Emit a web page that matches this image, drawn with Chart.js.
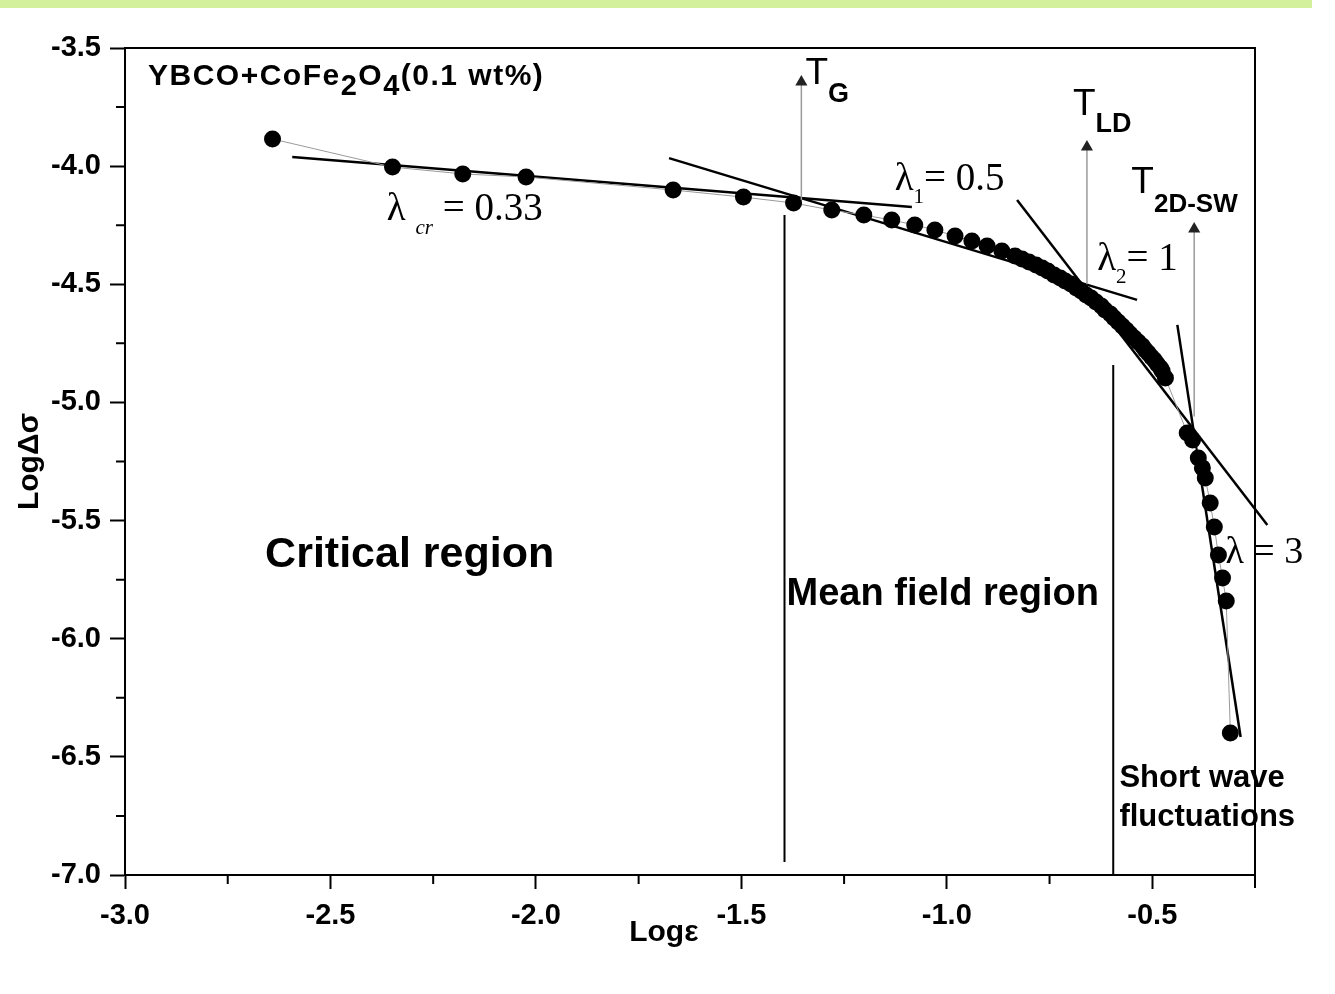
<!DOCTYPE html>
<html lang="en">
<head>
<meta charset="UTF-8">
<title>LogΔσ vs Logε</title>
<script src="https://cdn.jsdelivr.net/npm/chart.js"></script>
<style>
  body { margin: 0; padding: 0; background: #fff; }
  .band { position: absolute; left: 0; top: 0; width: 1312px; height: 8px; background: #d3f09c; }
  canvas { position: absolute; left: 0; top: 0; }
</style>
</head>
<body>
<div class="band"></div>
<canvas id="chart" width="1335" height="994"></canvas>
<script>
// measured points (Log eps, Log delta sigma)
const logEps = [-2.641, -2.349, -2.178, -2.024, -1.666, -1.495, -1.373, -1.280, -1.202, -1.134,
  -1.078, -1.029, -0.980, -0.939, -0.902, -0.866, -0.834, -0.817, -0.800, -0.783,
  -0.768, -0.754, -0.739, -0.724, -0.712, -0.698, -0.685, -0.673, -0.661, -0.649,
  -0.637, -0.624, -0.615, -0.602, -0.593, -0.583, -0.573, -0.563, -0.554, -0.544,
  -0.534, -0.524, -0.517, -0.510, -0.502, -0.495, -0.488, -0.480, -0.476, -0.468,
  -0.415, -0.402, -0.388, -0.378, -0.371, -0.359, -0.349, -0.339, -0.329, -0.320,
  -0.310];
const logDeltaSigma = [-3.885, -4.004, -4.033, -4.046, -4.101, -4.131, -4.156, -4.186, -4.207, -4.228,
  -4.249, -4.270, -4.296, -4.317, -4.338, -4.359, -4.380, -4.393, -4.406, -4.418,
  -4.431, -4.444, -4.461, -4.473, -4.486, -4.499, -4.516, -4.528, -4.545, -4.558,
  -4.575, -4.592, -4.609, -4.626, -4.643, -4.660, -4.677, -4.693, -4.710, -4.727,
  -4.744, -4.761, -4.778, -4.791, -4.808, -4.820, -4.837, -4.854, -4.867, -4.897,
  -5.129, -5.159, -5.235, -5.277, -5.320, -5.426, -5.527, -5.646, -5.743, -5.840,
  -6.399];

// fitted straight lines (end points)
const fitCrX = [-2.593, -1.085], fitCrY = [-3.961, -4.173];   // lambda_cr = 0.33
const fit1X = [-1.676, -0.537], fit1Y = [-3.966, -4.566];     // lambda_1 = 0.5
const fit2X = [-0.829, -0.220], fit2Y = [-4.143, -5.519];     // lambda_2 = 1
const fit3X = [-0.439, -0.285], fit3Y = [-4.672, -6.416];     // lambda = 3

// region boundaries
const boundTgX = -1.395, boundTgY = [-4.207, -6.945];
const boundSwX = -0.595, boundSwY = [-4.842, -7.0];

// temperature arrows (bottom, head)
const arrowTgX = -1.354, arrowTgY = [-4.143, -3.644];
const arrowLdX = -0.659, arrowLdY = [-4.500, -3.919];
const arrow2dX = -0.398, arrow2dY = [-5.060, -4.266];

// axis ticks
const xMinorTicks = [-2.75, -2.25, -1.75, -1.25, -0.75, -0.25];
const yMinorTicks = [-3.75, -4.25, -4.75, -5.25, -5.75, -6.25, -6.75];

const SANS = 'Liberation Sans, Arial, sans-serif';
const SERIF = 'Liberation Serif, Times New Roman, serif';

// text notes: anchor in data units, parts = [text, font, baseline shift]
const notes = [
  { x: -2.944, y: -3.657, ls: '1.5px', parts: [['YBCO+CoFe', 'bold 30px ' + SANS, 0], ['2', 'bold 29px ' + SANS, 10],
    ['O', 'bold 30px ' + SANS, 0], ['4', 'bold 29px ' + SANS, 10], ['(0.1 wt%)', 'bold 30px ' + SANS, 0]] },
  { x: -2.363, y: -4.228, parts: [['λ', '39px ' + SERIF, 0], [' ', '39px ' + SERIF, 0],
    ['cr', 'italic 21px ' + SERIF, 14], [' = 0.33', '39px ' + SERIF, 0]] },
  { x: -1.127, y: -4.101, parts: [['λ', '39px ' + SERIF, 0], ['1', '21px ' + SERIF, 13], ['= 0.5', '39px ' + SERIF, 0]] },
  { x: -0.634, y: -4.440, parts: [['λ', '39px ' + SERIF, 0], ['2', '21px ' + SERIF, 13], ['= 1', '39px ' + SERIF, 0]] },
  { x: -0.322, y: -5.680, parts: [['λ', '38px ' + SERIF, 0], [' = 3', '38px ' + SERIF, 0]] },
  { x: -1.344, y: -3.652, parts: [['T', '37px ' + SANS, 0], ['G', 'bold 27px ' + SANS, 18]] },
  { x: -0.693, y: -3.784, parts: [['T', '37px ' + SANS, 0], ['LD', 'bold 27px ' + SANS, 17]] },
  { x: -0.551, y: -4.114, parts: [['T', '37px ' + SANS, 0], ['2D-SW', 'bold 26px ' + SANS, 19]] },
  { x: -2.659, y: -5.696, parts: [['Critical region', 'bold 43px ' + SANS, 0]] },
  { x: -1.390, y: -5.857, parts: [['Mean field region', 'bold 38px ' + SANS, 0]] },
  { x: -0.580, y: -6.627, parts: [['Short wave', 'bold 31px ' + SANS, 0]] },
  { x: -0.580, y: -6.793, parts: [['fluctuations', 'bold 31px ' + SANS, 0]] },
  { x: -1.773, y: -7.280, parts: [['Logε', 'bold 30px ' + SANS, 0]] }
];

function pts(xs, ys) {
  return xs.map((v, i) => ({ x: v, y: ys[i] }));
}
function vline(x, ys) {
  return ys.map(v => ({ x: x, y: v }));
}

function lineSet(data, color, width) {
  return { data: data, showLine: true, borderColor: color, borderWidth: width, pointRadius: 0, clip: false };
}
function arrowSet(data) {
  return {
    data: data, showLine: true, borderColor: '#9a9a9a', borderWidth: 1.5,
    pointRadius: [0, 7], pointStyle: 'triangle', pointBackgroundColor: '#222', pointBorderWidth: 0
  };
}

const notesPlugin = {
  id: 'notes',
  afterDraw(chart) {
    const ctx = chart.ctx, xs = chart.scales.x, ys = chart.scales.y, a = chart.chartArea;
    ctx.save();
    // top and right frame
    ctx.strokeStyle = '#000';
    ctx.lineWidth = 2;
    ctx.beginPath();
    ctx.moveTo(a.left, a.top);
    ctx.lineTo(a.right, a.top);
    ctx.lineTo(a.right, a.bottom);
    ctx.stroke();
    // minor ticks
    ctx.beginPath();
    xMinorTicks.forEach(v => {
      const p = xs.getPixelForValue(v);
      ctx.moveTo(p, a.bottom);
      ctx.lineTo(p, a.bottom + (v === -0.25 ? 13 : 9));
    });
    yMinorTicks.forEach(v => {
      const p = ys.getPixelForValue(v);
      ctx.moveTo(a.left, p);
      ctx.lineTo(a.left - 9, p);
    });
    ctx.stroke();
    // labels
    ctx.fillStyle = '#000';
    ctx.textBaseline = 'alphabetic';
    notes.forEach(n => {
      let px = xs.getPixelForValue(n.x);
      const py = ys.getPixelForValue(n.y);
      ctx.letterSpacing = n.ls || '0px';
      n.parts.forEach(([t, font, dy]) => {
        ctx.font = font;
        ctx.fillText(t, px, py + dy);
        px += ctx.measureText(t).width;
      });
    });
    ctx.restore();
  }
};

new Chart(document.getElementById('chart'), {
  type: 'scatter',
  data: {
    datasets: [
      lineSet(vline(boundTgX, boundTgY), '#000', 2),
      lineSet(vline(boundSwX, boundSwY), '#000', 2),
      arrowSet(vline(arrowTgX, arrowTgY)),
      arrowSet(vline(arrowLdX, arrowLdY)),
      arrowSet(vline(arrow2dX, arrow2dY)),
      {
        data: pts(logEps, logDeltaSigma), showLine: true, borderColor: '#9a9a9a', borderWidth: 1,
        pointRadius: 8.5, pointBackgroundColor: '#000', pointBorderWidth: 0
      },
      lineSet(pts(fitCrX, fitCrY), '#000', 2.5),
      lineSet(pts(fit1X, fit1Y), '#000', 2.5),
      lineSet(pts(fit2X, fit2Y), '#000', 2.5),
      lineSet(pts(fit3X, fit3Y), '#000', 2.5)
    ]
  },
  options: {
    responsive: false,
    animation: false,
    layout: { padding: { left: 12, top: 48, right: 80, bottom: 0 } },
    plugins: { legend: { display: false }, tooltip: { enabled: false } },
    scales: {
      x: {
        type: 'linear', min: -3, max: -0.25,
        afterFit: s => { s.height = 119; },
        grid: { drawOnChartArea: false, tickLength: 14, tickColor: '#000', tickWidth: 2 },
        border: { display: true, color: '#000', width: 2 },
        ticks: {
          stepSize: 0.5, padding: 10, color: '#000', maxRotation: 0, autoSkip: false, includeBounds: false,
          font: { family: SANS, size: 29, weight: 'bold' },
          callback: v => v.toFixed(1)
        }
      },
      y: {
        type: 'linear', min: -7, max: -3.5,
        afterFit: s => { s.width = 113; },
        grid: { drawOnChartArea: false, tickLength: 15, tickColor: '#000', tickWidth: 2 },
        border: { display: true, color: '#000', width: 2 },
        title: { display: true, text: 'LogΔσ', color: '#000', padding: { top: 0, bottom: 0 },
          font: { family: SANS, size: 30, weight: 'bold' } },
        ticks: {
          stepSize: 0.5, padding: 9, color: '#000', autoSkip: false,
          font: { family: SANS, size: 29, weight: 'bold' },
          callback: v => v.toFixed(1)
        }
      }
    }
  },
  plugins: [notesPlugin]
});
</script>
</body>
</html>
